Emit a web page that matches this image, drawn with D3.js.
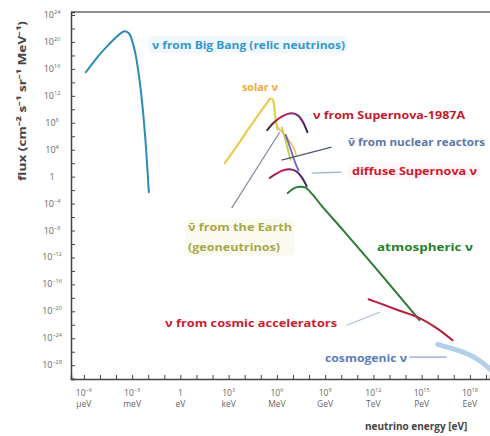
<!DOCTYPE html>
<html>
<head>
<meta charset="utf-8">
<script src="https://cdn.jsdelivr.net/npm/d3@7"></script>
<style>
  body { margin: 0; background: #fff; }
  svg { display: block; }
  text { font-family: "Open Sans", "Liberation Sans", sans-serif; }
</style>
</head>
<body>
<svg id="chart" width="490" height="436"></svg>
<script>
// Values are powers of ten: energy in eV, flux in cm^-2 s^-1 sr^-1 MeV^-1
const bigBangE = [-5.88, -5.4, -5.0, -4.5, -4.0, -3.65, -3.45, -3.2, -3.0, -2.8, -2.6, -2.4, -2.2, -1.96];
const bigBangF = [15.5, 17.0, 18.2, 19.5, 20.7, 21.4, 21.6, 21.3, 20.2, 18.3, 15.4, 11.5, 6.3, -2.3];

const solarE = [2.76, 3.5, 4.3, 5.0, 5.4, 5.6, 5.75, 5.85, 5.95, 6.05];
const solarF = [2.0, 4.5, 7.3, 9.7, 11.0, 11.6, 11.4, 10.0, 8.0, 7.0];
const solarTailE = [6.0, 6.4, 6.8, 7.1, 7.2];
const solarTailF = [7.4, 6.4, 5.2, 4.0, 3.2];

const sn1987E = [5.4, 5.8, 6.3, 6.9, 7.3, 7.6, 7.9];
const sn1987F = [6.9, 8.0, 8.9, 9.4, 9.1, 8.2, 6.6];

const reactorE = [6.55, 6.75, 6.95, 7.15, 7.35];
const reactorF = [6.2, 4.8, 3.4, 2.0, 0.9];

const geoE = [6.3, 6.45, 6.6, 6.75, 6.85];
const geoF = [7.3, 6.2, 4.8, 3.4, 2.5];

const diffuseE = [5.55, 6.0, 6.4, 6.8, 7.2, 7.55, 7.85];
const diffuseF = [-0.2, 0.5, 0.95, 1.1, 0.8, -0.1, -1.4];

const atmoE = [6.67, 7.0, 7.4, 7.75, 8.2, 8.84, 10.1, 12.5, 14.87];
const atmoF = [-2.45, -1.8, -1.5, -1.6, -2.6, -4.5, -7.9, -14.6, -21.3];

const cosmicAccE = [11.7, 12.5, 13.5, 14.87, 16.0, 16.92];
const cosmicAccF = [-18.2, -18.9, -19.8, -21.0, -22.6, -24.3];

const cosmogenicE = [16.0, 17.0, 18.0, 18.7, 19.3];
const cosmogenicF = [-24.9, -25.6, -26.5, -27.5, -28.7];

// axis ticks
const xTickExps = d3.range(-6, 20, 1);
const xLabelExps = [-6, -3, 0, 3, 6, 9, 12, 15, 18];
const xLabelUnits = ["μeV", "meV", "eV", "keV", "MeV", "GeV", "TeV", "PeV", "EeV"];
const yTickExps = d3.range(-30, 25, 2);
const yLabelExps = [24, 20, 16, 12, 8, 4, 0, -4, -8, -12, -16, -20, -24, -28];

const svg = d3.select('#chart');
const margin = { left: 71, right: 0, top: 12, bottom: 57 };
const W = 490, H = 436;

const x = d3.scaleLog()
    .domain([Math.pow(10, -6.8), Math.pow(10, 19.25)])
    .range([margin.left, W - margin.right]);
const y = d3.scaleLog()
    .domain([Math.pow(10, -30.05), Math.pow(10, 24.45)])
    .range([H - margin.bottom, margin.top]);

const p10 = e => Math.pow(10, e);

// gradients for the supernova curves
const defs = svg.append('defs');
function addGradient(id, e0, e1, stops) {
    const g = defs.append('linearGradient')
        .attr('id', id)
        .attr('gradientUnits', 'userSpaceOnUse')
        .attr('x1', x(p10(e0))).attr('x2', x(p10(e1)))
        .attr('y1', 0).attr('y2', 0);
    stops.forEach((c, i) => {
        g.append('stop').attr('offset', i / (stops.length - 1)).attr('stop-color', c);
    });
}
addGradient('gradSN', 5.4, 7.9, ['#3a2a3a', '#c02048', '#8a2a80', '#3a2050']);
addGradient('gradDiffuse', 5.55, 7.85, ['#7a2060', '#d02040', '#6a2070', '#3a2a50']);

// faint highlight behind some labels (as in the original slide)
const glows = [
    { x: 148, y: 36, w: 200, h: 17, c: '#f1f8fc' },
    { x: 185, y: 219, w: 110, h: 37, c: '#fafaf0' },
    { x: 348, y: 163, w: 132, h: 16, c: '#fef6f7' }
];
svg.selectAll('rect.glow').data(glows).enter().append('rect')
    .attr('x', d => d.x).attr('y', d => d.y)
    .attr('width', d => d.w).attr('height', d => d.h)
    .attr('rx', 6)
    .attr('fill', d => d.c);

// axes
svg.append('line')
    .attr('x1', margin.left).attr('x2', W)
    .attr('y1', margin.top).attr('y2', margin.top)
    .attr('stroke', '#6a6a6a').attr('stroke-width', 1.5);

const yAxis = d3.axisLeft(y)
    .tickValues(yTickExps.map(p10))
    .tickSize(-4)
    .tickFormat('');
svg.append('g')
    .attr('transform', `translate(${margin.left},0)`)
    .call(yAxis)
    .call(g => g.select('.domain').attr('stroke', '#444').attr('stroke-width', 1.5))
    .call(g => g.selectAll('.tick line').attr('stroke', '#444'));

const xAxis = d3.axisBottom(x)
    .tickValues(xTickExps.map(p10))
    .tickSize(-4)
    .tickFormat('');
svg.append('g')
    .attr('transform', `translate(0,${H - margin.bottom})`)
    .call(xAxis)
    .call(g => g.select('.domain').attr('stroke', '#444').attr('stroke-width', 1.5))
    .call(g => g.selectAll('.tick line').attr('stroke', '#444'));

// tick labels with superscripts
function powerLabel(sel, e) {
    if (e === 0) {
        sel.text('1');
        return;
    }
    sel.append('tspan').text('10');
    sel.append('tspan')
        .attr('dy', -4)
        .attr('font-size', 5.5)
        .text(e < 0 ? '−' + (-e) : e);
}

yLabelExps.forEach(e => {
    const t = svg.append('text')
        .attr('x', 52)
        .attr('y', y(p10(e)) + 3)
        .attr('text-anchor', 'middle')
        .attr('font-size', 9)
        .attr('fill', '#666');
    powerLabel(t, e);
});

xLabelExps.forEach((e, i) => {
    const cx = x(p10(e));
    const t = svg.append('text')
        .attr('x', cx)
        .attr('y', 396)
        .attr('text-anchor', 'middle')
        .attr('font-size', 8.5)
        .attr('fill', '#666');
    powerLabel(t, e);
    svg.append('text')
        .attr('x', cx)
        .attr('y', 407)
        .attr('text-anchor', 'middle')
        .attr('font-size', 8.5)
        .attr('fill', '#666')
        .text(xLabelUnits[i]);
});

// axis titles
svg.append('text')
    .attr('transform', 'translate(26,101) rotate(-90)')
    .attr('text-anchor', 'middle')
    .attr('font-size', 11)
    .attr('font-weight', 700)
    .attr('fill', '#444')
    .attr('textLength', 160)
    .attr('lengthAdjust', 'spacingAndGlyphs')
    .text('flux (cm⁻² s⁻¹ sr⁻¹ MeV⁻¹)');

svg.append('text')
    .attr('x', 365)
    .attr('y', 430)
    .attr('font-size', 10)
    .attr('font-weight', 700)
    .attr('fill', '#444')
    .text('neutrino energy [eV]');

// curves
const line = d3.line()
    .x(d => x(p10(d[0])))
    .y(d => y(p10(d[1])))
    .curve(d3.curveCatmullRom.alpha(0.5));

const curves = [
    { e: cosmogenicE, f: cosmogenicF, color: '#b4cfe9', width: 5 },
    { e: bigBangE, f: bigBangF, color: '#2a8ab8', width: 2 },
    { e: solarE, f: solarF, color: '#e8cc4a', width: 2.2 },
    { e: solarTailE, f: solarTailF, color: '#f0b850', width: 1.5 },
    { e: sn1987E, f: sn1987F, color: 'url(#gradSN)', width: 2 },
    { e: geoE, f: geoF, color: '#c4cc50', width: 1.8 },
    { e: reactorE, f: reactorF, color: '#6a64c0', width: 1.8 },
    { e: diffuseE, f: diffuseF, color: 'url(#gradDiffuse)', width: 2 },
    { e: atmoE, f: atmoF, color: '#2f7a34', width: 2 },
    { e: cosmicAccE, f: cosmicAccF, color: '#b81c3c', width: 2 }
];

svg.selectAll('path.curve')
    .data(curves)
    .enter()
    .append('path')
    .attr('class', 'curve')
    .attr('d', d => line(d.e.map((v, i) => [v, d.f[i]])))
    .attr('fill', 'none')
    .attr('stroke', d => d.color)
    .attr('stroke-width', d => d.width)
    .attr('stroke-linecap', 'round');

// leader lines from labels to curves (in data units)
const leaders = [
    { a: [3.19, -4.68], b: [6.17, 6.6], color: '#7d8aa0' },
    { a: [6.29, 2.45], b: [9.4, 4.39], color: '#4a5870' },
    { a: [8.16, 0.52], b: [10.02, 0.67], color: '#94b2d2' },
    { a: [10.34, -22.06], b: [12.39, -20.13], color: '#a8bed4' },
    { a: [14.25, -26.8], b: [16.55, -26.8], color: '#8ea4c4' }
];
svg.selectAll('line.leader')
    .data(leaders)
    .enter()
    .append('line')
    .attr('x1', d => x(p10(d.a[0])))
    .attr('y1', d => y(p10(d.a[1])))
    .attr('x2', d => x(p10(d.b[0])))
    .attr('y2', d => y(p10(d.b[1])))
    .attr('stroke', d => d.color)
    .attr('stroke-width', 1.2);

// labels
const labels = [
    { t: 'ν from Big Bang (relic neutrinos)', x: 152, y: 49, w: 193, c: '#3296d4' },
    { t: 'solar ν', x: 242, y: 91, w: 36, c: '#f0aa3a' },
    { t: 'ν from Supernova-1987A', x: 313, y: 119, w: 152, c: '#c4182c' },
    { t: 'ν̄ from nuclear reactors', x: 348, y: 146, w: 137, c: '#5a76a6' },
    { t: 'diffuse Supernova  ν', x: 352, y: 175, w: 125, c: '#d0182e' },
    { t: 'ν̄ from the Earth', x: 188, y: 231, w: 104, c: '#a8a848' },
    { t: '(geoneutrinos)', x: 188, y: 251, w: 92, c: '#a8a848' },
    { t: 'atmospheric ν', x: 377, y: 251, w: 96, c: '#24802a' },
    { t: 'ν from cosmic accelerators', x: 165, y: 327, w: 172, c: '#c8202e' },
    { t: 'cosmogenic ν', x: 325, y: 362, w: 82, c: '#5a7cba' }
];
svg.selectAll('text.label')
    .data(labels)
    .enter()
    .append('text')
    .attr('class', 'label')
    .attr('x', d => d.x)
    .attr('y', d => d.y)
    .attr('font-size', 11)
    .attr('font-weight', 700)
    .attr('fill', d => d.c)
    .attr('textLength', d => d.w)
    .attr('lengthAdjust', 'spacingAndGlyphs')
    .text(d => d.t);
</script>
</body>
</html>
